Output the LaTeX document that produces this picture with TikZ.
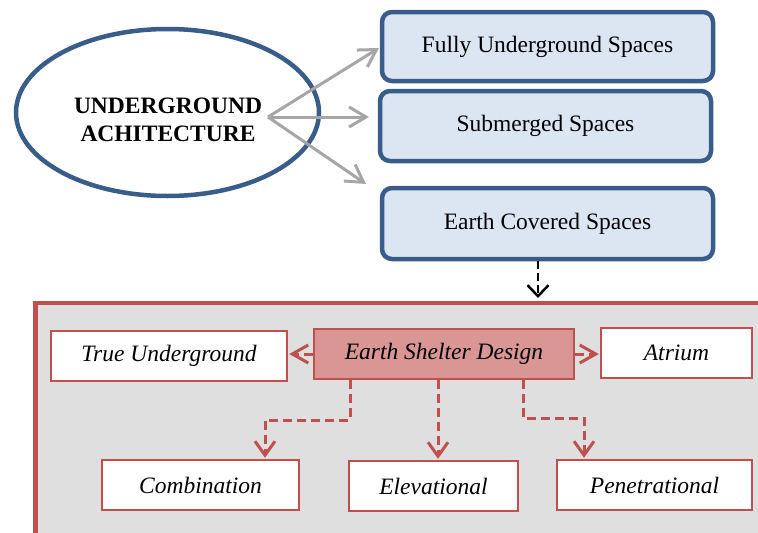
\documentclass[tikz,border=0pt]{standalone}
\usepackage{fontspec}
\setmainfont{LiberationSerif}[Extension=.ttf, UprightFont=*-Regular, BoldFont=*-Bold, ItalicFont=*-Italic, BoldItalicFont=*-BoldItalic]
\usetikzlibrary{arrows.meta,shapes.geometric,calc}
\definecolor{blueline}{RGB}{56,93,138}
\definecolor{bluefill}{RGB}{220,230,242}
\definecolor{redline}{RGB}{192,80,77}
\definecolor{redfill}{RGB}{217,150,148}
\definecolor{grayfill}{RGB}{223,223,223}
\definecolor{grayarrow}{RGB}{166,166,166}
\tikzset{
  bigfont/.style={font=\fontsize{23.5}{28}\selectfont},
  bluebox/.style={draw=blueline, fill=bluefill, line width=4.5pt, rounded corners=10pt, inner sep=0pt, bigfont},
  redbox/.style={draw=redline, fill=white, line width=1.4pt, inner sep=0pt, font=\fontsize{23.5}{28}\selectfont\itshape},
  grayarr/.style={draw=grayarrow, line width=3pt, -{Straight Barb[length=17pt,width=20pt,line width=3pt]}},
  reddash/.style={draw=redline, line width=3pt, dash pattern=on 9pt off 5pt},
  redtiph/.style={draw=redline, line width=3pt, solid, -{Straight Barb[length=16pt,width=18pt,line width=3pt]}},
  redtipv/.style={draw=redline, line width=3pt, solid, -{Straight Barb[length=14pt,width=20pt,line width=3pt]}},
  blackdash/.style={draw=black, line width=2.5pt, dash pattern=on 8pt off 4pt},
  blacktip/.style={draw=black, line width=2.5pt, solid, -{Straight Barb[length=11pt,width=21pt,line width=2.5pt]}}
}
\begin{document}
\begin{tikzpicture}[x=1pt,y=-1pt]
\useasboundingbox (0,0) rectangle (758,533);
% red frame
\path[draw=redline, fill=grayfill, line width=4.5pt] (35.5,560) -- (35.5,303) -- (790,303) -- (790,560) -- cycle;
% ellipse
\node[ellipse, draw=blueline, fill=white, line width=4.5pt, minimum width=303pt, minimum height=167pt, inner sep=0pt] (ua) at (167.5,112.5) {};
\node[font=\fontsize{23.5}{28}\selectfont\bfseries, align=center] (uat) at (168,120) {UNDERGROUND\\ACHITECTURE};
% blue boxes
\node[bluebox, minimum width=331pt, minimum height=69pt] (b1) at (547.5,46.5) {Fully Underground Spaces};
\node[bluebox, minimum width=331pt, minimum height=70pt] (b2) at (545.5,126) {Submerged Spaces};
\node[bluebox, minimum width=331pt, minimum height=71pt] (b3) at (547.5,223.5) {Earth Covered Spaces};
% gray arrows
\coordinate (hub) at (268,117);
\coordinate (t1) at (379,48);
\coordinate (t2) at (369,117);
\coordinate (t3) at (366,184);
\draw[grayarr] (hub) -- (t1);
\draw[grayarr] (hub) -- (t2);
\draw[grayarr] (hub) -- (t3);
% black dashed arrow
\coordinate (bt) at (538,298);
\draw[blackdash] (b3.south -| bt) -- ([yshift=3pt]bt);
\draw[blacktip] ([yshift=3pt]bt) -- (bt);
% red boxes
\node[redbox, fill=redfill, minimum width=260pt, minimum height=50pt] (esd) at (444,354) {Earth Shelter Design};
\node[redbox, minimum width=236pt, minimum height=50pt] (tu) at (169,356) {True Underground};
\node[redbox, minimum width=151pt, minimum height=50pt] (at) at (676.5,353) {Atrium};
\node[redbox, minimum width=197pt, minimum height=50pt] (co) at (200.5,485) {Combination};
\node[redbox, minimum width=169pt, minimum height=50pt] (el) at (433.5,486) {Elevational};
\node[redbox, minimum width=195pt, minimum height=50pt] (pe) at (654.5,485) {Penetrational};
% red arrows
\coordinate (tuE) at ([xshift=1.5pt]esd.west -| tu.east);
\draw[reddash] (esd.west) -- ([xshift=3pt]tuE);
\draw[redtiph] ([xshift=3pt]tuE) -- (tuE);
\coordinate (atW) at ([xshift=-1.5pt]at.west |- esd.east);
\draw[reddash] (esd.east) -- ([xshift=-3pt]atW);
\draw[redtiph] ([xshift=-3pt]atW) -- (atW);
\coordinate (c1) at (350,420);
\coordinate (c2) at (265,420);
\coordinate (coN) at ([yshift=1.5pt]c2 |- co.north);
\draw[reddash] (esd.south -| c1) -- (c1) -- (c2) -- ([yshift=3pt]coN);
\draw[redtipv] ([yshift=3pt]coN) -- (coN);
\coordinate (e1) at (438,420);
\coordinate (elN) at ([yshift=1.5pt]e1 |- el.north);
\draw[reddash] (esd.south -| e1) -- ([yshift=3pt]elN);
\draw[redtipv] ([yshift=3pt]elN) -- (elN);
\coordinate (p1) at (523,418);
\coordinate (p2) at (584,418);
\coordinate (peN) at ([yshift=1.5pt]p2 |- pe.north);
\draw[reddash] (esd.south -| p1) -- (p1) -- (p2) -- ([yshift=3pt]peN);
\draw[redtipv] ([yshift=3pt]peN) -- (peN);
\end{tikzpicture}
\end{document}
